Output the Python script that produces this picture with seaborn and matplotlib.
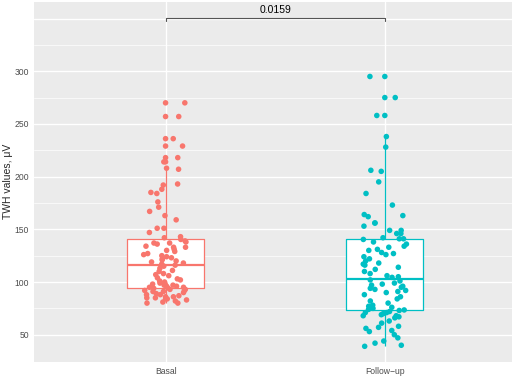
import numpy as np
import pandas as pd
import seaborn as sns
import matplotlib.pyplot as plt

# TWH values (uV)
basal = [80, 80, 81, 82, 83, 84, 84, 85, 85, 86, 86, 87, 88, 88, 89, 90, 91, 91, 92, 92, 93, 93, 94,
         94.4, 95, 95, 96, 96, 97, 97, 98, 98, 99, 100, 101, 102, 103, 104, 106, 107, 108, 110, 111, 113, 115, 116,
         117, 118, 119, 120, 121, 122, 123, 124, 125, 126, 127, 129, 130, 131, 133, 133, 134, 136, 137, 137, 138, 139, 140.4,
         142, 143, 147, 151, 151, 159, 163, 167, 171, 176, 184, 185, 188, 192, 193, 207, 208, 214, 218, 229, 236, 257, 270]
follow_up = [39, 40, 42, 44, 47, 50, 53, 54, 56, 57, 58, 61, 63, 66, 67, 68, 68, 69, 70, 71, 71, 72, 73,
             73.5, 74, 75, 76, 77, 78, 80, 82, 84, 86, 88, 90, 91, 92, 93, 94, 95, 96, 97, 98, 99, 101, 102,
             104.4, 105, 106, 108, 110, 112, 114, 116, 117, 118, 120, 122, 124, 126, 127, 128, 130, 131, 133, 134, 136, 138, 140.4,
             141, 141, 142, 146, 146, 149, 149, 153, 156, 156, 162, 163, 164, 173, 184, 195, 205, 206, 228, 238, 258, 275, 295]
groups = ["Basal", "Follow\u2212up"]
p_value = "0.0159"
bracket_y = 350.5

df = pd.DataFrame({
    "group": [groups[0]] * len(basal) + [groups[1]] * len(follow_up),
    "twh": basal + follow_up,
})
palette = {groups[0]: "#F8766D", groups[1]: "#00BFC4"}

# boxplot outliers (1.5 IQR rule), drawn at the box centre like ggplot
def outliers(g):
    q1, q3 = np.percentile(g["twh"], [25, 75])
    iqr = q3 - q1
    return g[(g["twh"] > q3 + 1.5 * iqr) | (g["twh"] < q1 - 1.5 * iqr)]
df_out = df.groupby("group", sort=False, group_keys=False).apply(outliers)

sns.set_style("darkgrid")
plt.rcParams["font.family"] = ["Liberation Sans", "DejaVu Sans"]

fig = plt.figure(figsize=(5.2, 3.77), dpi=100)
ax = fig.add_axes([0.0654, 0.0406, 0.9192, 0.955])
ax.set_facecolor("#EBEBEB")

# white box fill underneath
sns.boxplot(data=df, x="group", y="twh", color="white", fill=True, width=0.35,
            linewidth=0, showfliers=False, showcaps=False, ax=ax,
            whiskerprops=dict(linewidth=0), medianprops=dict(linewidth=0))
# coloured outlines and whiskers
sns.boxplot(data=df, x="group", y="twh", hue="group", palette=palette, fill=False,
            width=0.35, linewidth=0.9, showcaps=False, showfliers=False, legend=False, ax=ax,
            medianprops=dict(linewidth=1.6))
sns.stripplot(data=df_out, x="group", y="twh", hue="group", palette=palette, jitter=False,
              size=4, linewidth=0, legend=False, ax=ax, zorder=5, order=groups)

np.random.seed(7)
sns.stripplot(data=df, x="group", y="twh", hue="group", palette=palette, jitter=0.1,
              size=4, linewidth=0, legend=False, ax=ax, zorder=5)

# significance bracket
ax.plot([0, 0, 1, 1], [bracket_y - 2.5, bracket_y, bracket_y, bracket_y - 2.5],
        color="#555555", lw=0.8, zorder=6)
ax.text(0.5, bracket_y + 3, p_value, ha="center", va="bottom", fontsize=7.5, color="black")

ax.set_xlim(-0.6, 1.58)
ax.set_ylim(24.4, 366)
ax.set_yticks([50, 100, 150, 200, 250, 300])
ax.set_yticks([75, 125, 175, 225, 275, 325], minor=True)
ax.grid(True, which="major", color="white", lw=1.0)
ax.grid(True, which="minor", axis="y", color="white", lw=0.5)
ax.axhline(350, color="white", lw=1.0, zorder=0.5)
ax.set_axisbelow(True)
for s in ax.spines.values():
    s.set_visible(False)
ax.tick_params(axis="both", which="major", length=2, width=0.6, color="#333333",
               labelsize=6.2, labelcolor="#4D4D4D", pad=1.5)
ax.tick_params(axis="y", which="minor", length=0)
ax.set_xlabel("")
ax.set_ylabel("TWH values, \u03bcV", fontsize=7.5, labelpad=1)

fig.savefig("out.png", dpi=100)
